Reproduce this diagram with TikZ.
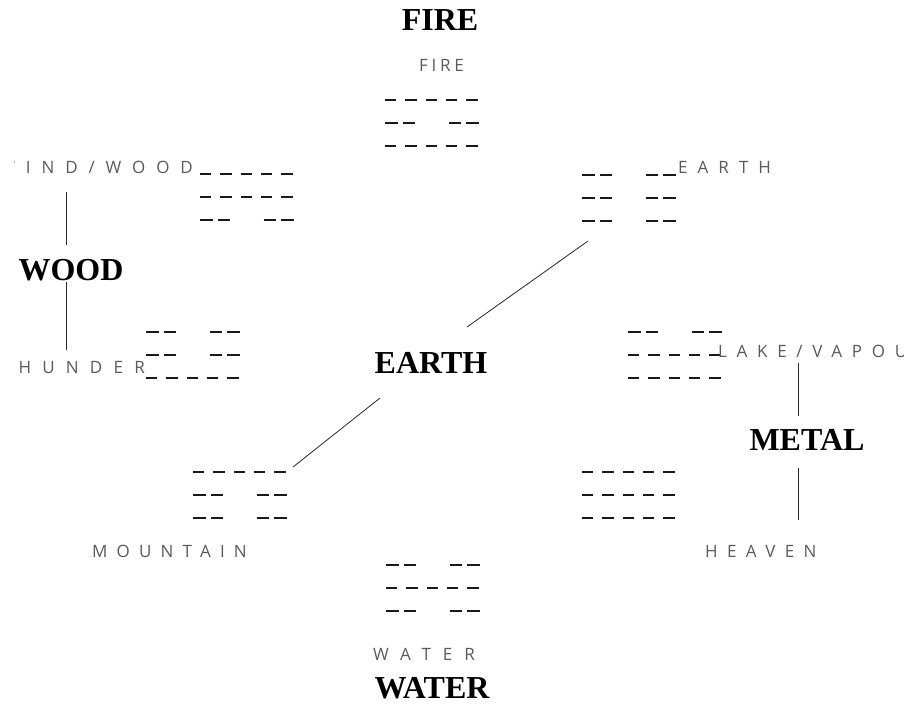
\documentclass[tikz,border=0pt]{standalone}
\usepackage{fontspec}
\setmainfont{Liberation Serif}
\newfontfamily\labfont{Open Sans}
\definecolor{labgray}{HTML}{5A5A5A}
\begin{document}
\begin{tikzpicture}[x=1pt,y=-1pt,
  big/.style={font=\fontsize{32}{32}\selectfont\bfseries, inner sep=0pt},
  lab/.style={font=\labfont\fontsize{17}{17}\selectfont, text=labgray, inner sep=0pt},
  triline/.style={line width=2pt, draw=black!90},
  yangline/.style={triline, dash pattern=on 11.3pt off 9pt},
  yinline/.style={triline, dash pattern=on 12.5pt off 5pt},
  conn/.style={line width=0.8pt, draw=black!85},
  yang/.pic={\draw[yangline] (0,0) -- (93.5,0);},
  yin/.pic={\draw[yinline] (0,0) -- (30,0) (63.5,0) -- (93.5,0);}]
\useasboundingbox (0,0) rectangle (904,712);
\newcommand\trig[5]{\pic at (#1,#2) {#3}; \pic at ({#1},{#2+23}) {#4}; \pic at ({#1},{#2+46}) {#5};}
\newcommand\ls[2]{\addfontfeature{LetterSpace=#1}#2}
% trigrams
\trig{385}{100}{yang}{yin}{yang}
\trig{200}{174}{yang}{yang}{yin}
\trig{582}{175}{yin}{yin}{yin}
\trig{146}{332}{yin}{yin}{yang}
\trig{628}{332}{yin}{yang}{yang}
\trig{193}{472}{yang}{yin}{yin}
\trig{582}{472}{yang}{yang}{yang}
\trig{386}{565}{yin}{yang}{yin}
% element names
\node[big, anchor=base] (fire) at (440,30) {FIRE};
\node[big, anchor=base] (wood) at (71,280) {WOOD};
\node[big, anchor=base] (earth) at (431,373) {EARTH};
\node[big, anchor=base] (metal) at (807,450) {METAL};
\node[big, anchor=base] (water) at (432,698) {WATER};
% trigram labels
\begin{scope}
\clip (14,0) rectangle (904,712);
\node[lab, anchor=base west] (firelab) at (419,71) {\ls{22}{FIRE}};
\node[lab, anchor=base east] (windlab) at (193,173) {\ls{64}{WIND/WOOD}};
\node[lab, anchor=base west] (earthlab) at (678,173) {\ls{59}{EARTH}};
\node[lab, anchor=base east] (thunderlab) at (145,373) {\ls{66}{THUNDER}};
\node[lab, anchor=base west] (lakelab) at (718,357) {\ls{57}{LAKE/VAPOUR}};
\node[lab, anchor=base west] (mountainlab) at (92,557) {\ls{54}{MOUNTAIN}};
\node[lab, anchor=base west] (heavenlab) at (705,557) {\ls{55}{HEAVEN}};
\node[lab, anchor=base west] (waterlab) at (373,660) {\ls{70}{WATER}};
\end{scope}
% connectors
\coordinate (w1) at (66,192); \coordinate (w2) at (66,245);
\coordinate (w3) at (66,282); \coordinate (w4) at (66,350);
\coordinate (m1) at (798,363); \coordinate (m2) at (798,416);
\coordinate (m3) at (798,468); \coordinate (m4) at (798,520);
\coordinate (e1) at (467,327); \coordinate (e2) at (588,241);
\coordinate (e3) at (380,398); \coordinate (e4) at (293,467);
\draw[conn] (w1) -- (w2);
\draw[conn] (w3) -- (w4);
\draw[conn] (m1) -- (m2);
\draw[conn] (m3) -- (m4);
\draw[conn] (e1) -- (e2);
\draw[conn] (e3) -- (e4);
\end{tikzpicture}
\end{document}
